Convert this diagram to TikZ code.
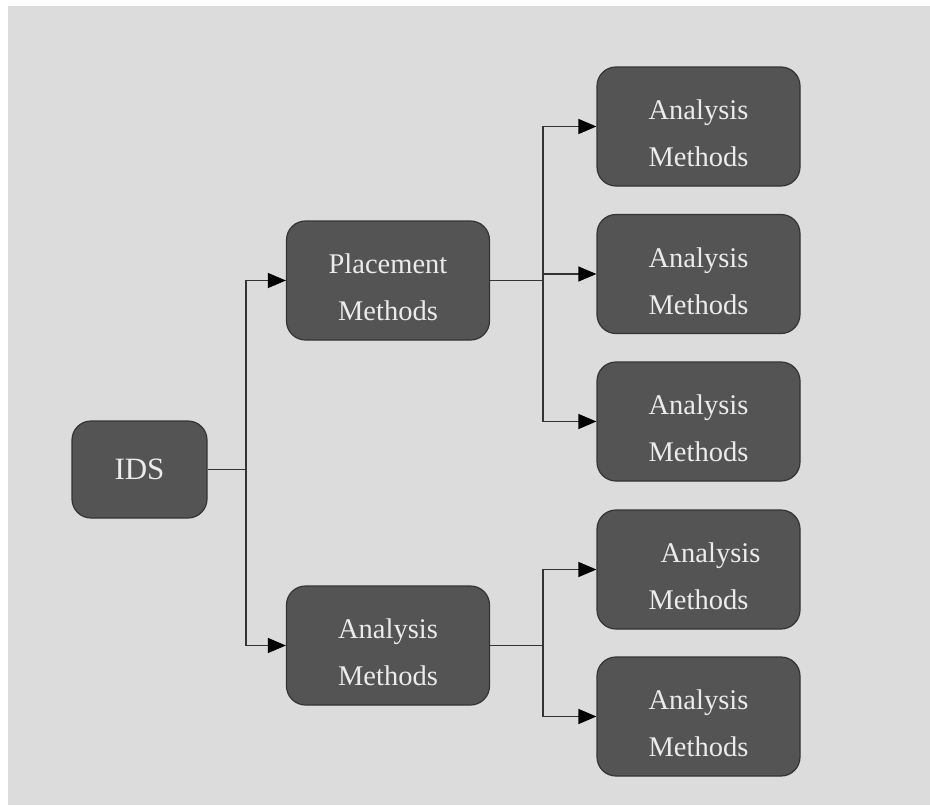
\documentclass[tikz,border=0pt]{standalone}
\usepackage{fontspec}
\setmainfont{Liberation Serif}
\usetikzlibrary{arrows.meta}
\definecolor{bgc}{RGB}{220,220,220}
\definecolor{boxc}{RGB}{84,84,84}
\definecolor{edgec}{RGB}{52,52,52}
\definecolor{txtc}{RGB}{235,235,235}
\newcommand{\tstrut}{\rule{0pt}{34pt}}
\tikzset{
  box/.style={draw=edgec, line width=1.2pt, fill=boxc, rounded corners=19pt,
    text=txtc, align=center, inner sep=0pt,
    font=\fontsize{28.5}{47}\selectfont},
  wide/.style={box, minimum width=203pt, minimum height=119pt},
  small/.style={box, minimum width=135pt, minimum height=97pt,
    font=\fontsize{31}{36}\selectfont},
  link/.style={draw=edgec, line width=1.3pt},
  arr/.style={link, -{Triangle[length=18pt,width=15pt,fill=black,color=black]}}
}
\begin{document}
\begin{tikzpicture}[x=1pt,y=-1pt]
\useasboundingbox (0,0) rectangle (930,806);
\fill[white] (0,0) rectangle (930,806);
\fill[bgc] (8,6) rectangle (930,805);
\node[small] (ids) at (139.5,469.5) {IDS};
\node[wide] (pm) at (388,280.5) {\tstrut Placement\\Methods};
\node[wide] (am) at (388,645.5) {\tstrut Analysis\\Methods};
\node[wide] (r1) at (698.5,126.5) {\tstrut Analysis\\Methods};
\node[wide] (r2) at (698.5,274) {\tstrut Analysis\\Methods};
\node[wide] (r3) at (698.5,421.5) {\tstrut Analysis\\Methods};
\node[wide] (r4) at (698.5,569.5) {\tstrut\hspace*{24pt}Analysis\\Methods};
\node[wide] (r5) at (698.5,716.5) {\tstrut Analysis\\Methods};
\coordinate (j1) at (246,469.5);
\coordinate (j2) at (543,280.5);
\coordinate (j3) at (543,645.5);
\draw[link] (ids.east) -- (j1);
\draw[arr] (j1) |- (pm.west);
\draw[arr] (j1) |- (am.west);
\draw[link] (pm.east) -- (j2);
\draw[arr] (j2) |- (r1.west);
\draw[arr] (j2) |- (r2.west);
\draw[arr] (j2) |- (r3.west);
\draw[link] (am.east) -- (j3);
\draw[arr] (j3) |- (r4.west);
\draw[arr] (j3) |- (r5.west);
\end{tikzpicture}
\end{document}
